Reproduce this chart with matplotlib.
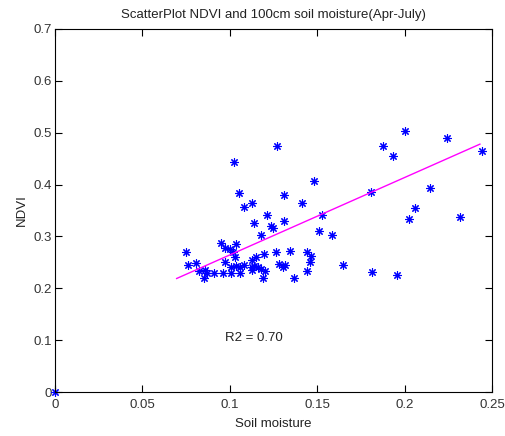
import numpy as np
import matplotlib
matplotlib.use("Agg")
import matplotlib.pyplot as plt

# soil moisture (x) and NDVI (y)
soil = [0.0,
        0.0749, 0.0763, 0.0808, 0.0825, 0.0858, 0.0868, 0.0854, 0.0911, 0.0951,
        0.0959, 0.0972, 0.0972, 0.1001, 0.1008, 0.1008, 0.1020, 0.1022, 0.1030,
        0.1035, 0.1037, 0.1051, 0.1058, 0.1058, 0.1081, 0.1083, 0.1125, 0.1125,
        0.1127, 0.1127, 0.1136, 0.1138, 0.1150, 0.1163, 0.1176, 0.1178, 0.1192,
        0.1194, 0.1201, 0.1211, 0.1238, 0.1249, 0.1262, 0.1268, 0.1281, 0.1306,
        0.1308, 0.1308, 0.1316, 0.1344, 0.1367, 0.1415, 0.1443, 0.1443, 0.1459,
        0.1464, 0.1482, 0.1512, 0.1527, 0.1586, 0.1649, 0.1808, 0.1815, 0.1874,
        0.1932, 0.1958, 0.2004, 0.2023, 0.2061, 0.2145, 0.2240, 0.2317, 0.2441]
ndvi = [0.0,
        0.270, 0.244, 0.248, 0.233, 0.235, 0.230, 0.219, 0.229, 0.287,
        0.230, 0.278, 0.250, 0.275, 0.230, 0.242, 0.270, 0.443, 0.261,
        0.243, 0.285, 0.383, 0.242, 0.230, 0.356, 0.245, 0.242, 0.235,
        0.365, 0.254, 0.326, 0.243, 0.261, 0.242, 0.238, 0.303, 0.220,
        0.266, 0.233, 0.342, 0.321, 0.317, 0.270, 0.474, 0.247, 0.242,
        0.379, 0.330, 0.244, 0.272, 0.219, 0.365, 0.270, 0.233, 0.251,
        0.262, 0.406, 0.310, 0.341, 0.303, 0.244, 0.386, 0.231, 0.474,
        0.455, 0.226, 0.504, 0.334, 0.355, 0.394, 0.490, 0.337, 0.465]

# fitted line as drawn
fit_x = [0.0696, 0.2431]
slope, intercept = 1.493, 0.115
r2_text = "R2 = 0.70"

xticks = [0, 0.05, 0.1, 0.15, 0.2, 0.25]
xlabels = ["0", "0.05", "0.1", "0.15", "0.2", "0.25"]
yticks = [0, 0.1, 0.2, 0.3, 0.4, 0.5, 0.6, 0.7]
ylabels = ["0", "0.1", "0.2", "0.3", "0.4", "0.5", "0.6", "0.7"]

plt.rcParams['font.family'] = ['Liberation Sans', 'DejaVu Sans']
plt.rcParams['font.size'] = 9.5

fig = plt.figure(figsize=(5.06, 4.36), dpi=100)
ax = fig.add_axes([0.1087, 0.1009, 0.8636, 0.8326])

ax.plot(soil, ndvi, linestyle='none', marker=(8, 2, 0), markersize=6,
        markeredgewidth=0.8, color='blue', clip_on=False)
fx = np.array(fit_x)
ax.plot(fx, slope * fx + intercept, color='magenta', linewidth=1)
ax.text(0.0973, 0.104, r2_text, ha='left', va='center', color='#222222')

ax.set_xlim(0, 0.25)
ax.set_ylim(0, 0.7)
ax.set_xticks(xticks)
ax.set_xticklabels(xlabels)
ax.set_yticks(yticks)
ax.set_yticklabels(ylabels)
ax.tick_params(direction='in', length=5, top=True, right=True,
               labelcolor='#333333', pad=2)
ax.tick_params(axis='x', pad=5)
for s in ax.spines.values():
    s.set_linewidth(0.8)

ax.set_xlabel("Soil moisture", labelpad=5, color='#222222')
ax.set_ylabel("NDVI", labelpad=4, color='#222222')
ax.set_title("ScatterPlot NDVI and 100cm soil moisture(Apr-July)",
             fontsize=9.5, pad=8, color='#222222')

fig.savefig("out.png", dpi=100)
